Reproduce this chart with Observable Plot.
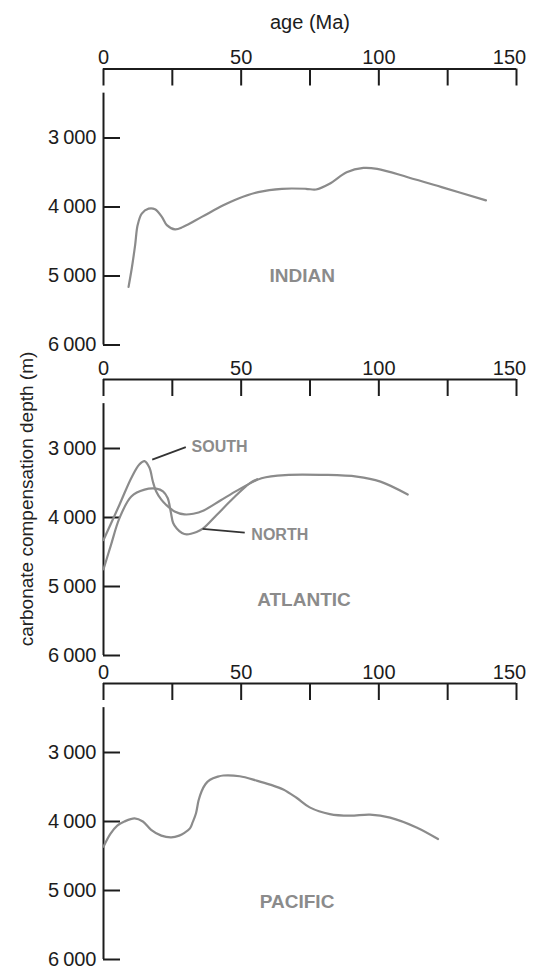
<!DOCTYPE html>
<html><head><meta charset="utf-8">
<script src="https://cdn.jsdelivr.net/npm/d3@7"></script>
<script src="https://cdn.jsdelivr.net/npm/@observablehq/plot@0.6"></script>
<style>
html,body{margin:0;padding:0;background:#fff;overflow:hidden;}
#fig{position:relative;width:533px;height:970px;overflow:hidden;font-family:"Liberation Sans",Arial,sans-serif;}
.panel{position:absolute;left:0;}
#ylab{position:absolute;left:27px;top:499px;transform:translate(-50%,-50%) rotate(-90deg);white-space:nowrap;font-size:19px;color:#222;}
</style></head><body>
<div id="fig"><div id="ylab">carbonate compensation depth (m)</div></div>
<script>
// ---- data ----
const xTicks = [0, 25, 50, 75, 100, 125, 150];
const xTickLabels = [0, 50, 100];
const xEndLabel = [150];
const yTicks = [3000, 4000, 5000, 6000];

const indianAge   = [9.1,10.3,11.5,12.4,13.9,16.4,18.7,21.2,23.0,26.0,29.0,35.7,43.5,48.8,56.2,64.8,73.5,77.2,82.1,88.3,94.4,99.4,110.5,122.8,138.9];
const indianDepth = [5157,4881,4548,4262,4095,4024,4033,4143,4262,4324,4286,4143,3976,3880,3784,3736,3736,3746,3664,3496,3434,3448,3568,3712,3904];

const southAge   = [0,5.8,10.1,13.0,14.9,16.7,17.9,19.1,21.0,22.7,25.8,29.4,32.6,36.4,42.6,48.8,57.4,67.3,79.6,92,100.6,110.5];
const southDepth = [4326,3815,3426,3231,3182,3280,3474,3620,3742,3815,3912,3955,3945,3897,3750,3603,3431,3382,3382,3407,3480,3667];

const northAge   = [0,2.7,5.8,10.1,14.9,19.1,21.6,23.3,24.4,25.3,26.6,28.5,30.2,33.8,36.2,41.1,47.1,53.2,55.8];
const northDepth = [4750,4400,4010,3695,3596,3582,3620,3718,3912,4080,4159,4225,4245,4210,4159,3964,3721,3502,3445];

const pacificAge   = [0,2.5,5,7.6,11.3,14.3,17.3,21.0,24.6,27.5,29.4,31.4,32.4,33.6,34.5,35.6,37,38.7,41.5,43.5,49.5,55.6,60.5,65.3,70.1,74.9,82.2,89.5,96.8,104.1,113.7,121.5];
const pacificDepth = [4365,4180,4060,4000,3955,4000,4120,4205,4230,4205,4165,4100,4010,3880,3700,3565,3460,3395,3350,3333,3344,3407,3465,3536,3656,3795,3893,3916,3900,3943,4086,4254];

const oceanNames = ["INDIAN", "ATLANTIC", "PACIFIC"];
const oceanNameAge = [72.2, 72.8, 70.3];
const oceanNameDepth = [5005, 5200, 5160];

const curveNames = ["SOUTH", "NORTH"];
const curveNameAge = [32.0, 53.7];
const curveNameDepth = [2975, 4255];
const leaderAge1 = [17.7, 36.0];
const leaderDepth1 = [3160, 4165];
const leaderAge2 = [29.9, 51.3];
const leaderDepth2 = [2980, 4220];

const xTitle = "age (Ma)";

// ---- drawing ----
const W = 533, ML = 103, MR = 17, FH = 276;
const FW = W - ML - MR;
const Y0 = 2000, YAXIS_START = 2350;
const ink = "#1c1c1c", gray = "#8b8b8b";
const toRows = (a, b) => a.map((x, i) => ({age: x, depth: b[i]}));
const fmt = d => `${Math.floor(d / 1000)}\u2009${String(d % 1000).padStart(3, "0")}`;

function panel({top, marginTop, series, nameIndex, extra = [], title = false}) {
  const marks = [
    Plot.ruleY([Y0], {stroke: ink, strokeWidth: 2}),
    Plot.tickX(xTicks, {x: d => d, insetBottom: FH - 17, stroke: ink, strokeWidth: 2}),
    Plot.axisX({anchor: "top", ticks: xTickLabels, tickSize: 0, tickPadding: 5, fontSize: 20, label: null, fill: ink}),
    Plot.axisX({anchor: "top", ticks: xEndLabel, tickSize: 0, tickPadding: 5, fontSize: 20, label: null, fill: ink, dx: -7}),
    Plot.ruleX([0], {y1: YAXIS_START, y2: 6000, stroke: ink, strokeWidth: 2}),
    Plot.tickY(yTicks, {y: d => d, insetRight: FW - 17, stroke: ink, strokeWidth: 2}),
    Plot.axisY({anchor: "left", ticks: yTicks, tickSize: 0, tickPadding: 7, tickFormat: fmt, fontSize: 20, label: null, fill: ink}),
    ...series.map(s => Plot.line(s, {x: "age", y: "depth", curve: "catmull-rom", stroke: gray, strokeWidth: 2.2})),
    Plot.text([oceanNames[nameIndex]], {x: oceanNameAge[nameIndex], y: oceanNameDepth[nameIndex], text: d => d,
      fontWeight: "bold", fontSize: 19, fill: gray}),
    ...extra
  ];
  if (title) marks.push(Plot.text([xTitle], {frameAnchor: "top", lineAnchor: "middle", dy: -46, fontSize: 20, fill: ink}));
  const chart = Plot.plot({
    width: W, height: marginTop + FH + 12,
    marginLeft: ML, marginRight: MR, marginTop, marginBottom: 12,
    x: {domain: [0, 150]},
    y: {domain: [Y0, 6000], reverse: true},
    style: {fontFamily: '"Liberation Sans", Arial, sans-serif', fontSize: "20px", background: "transparent", color: ink, overflow: "visible"},
    marks
  });
  chart.classList.add("panel");
  chart.style.top = top + "px";
  document.getElementById("fig").appendChild(chart);
}

const labelRows = curveNames.map((n, i) => ({n, age: curveNameAge[i], depth: curveNameDepth[i],
  a1: leaderAge1[i], d1: leaderDepth1[i], a2: leaderAge2[i], d2: leaderDepth2[i]}));

panel({top: 0, marginTop: 68.5, series: [toRows(indianAge, indianDepth)], nameIndex: 0, title: true});
panel({top: 339.3, marginTop: 40, series: [toRows(southAge, southDepth), toRows(northAge, northDepth)], nameIndex: 1,
  extra: [
    Plot.link(labelRows, {x1: "a1", y1: "d1", x2: "a2", y2: "d2", stroke: "#333", strokeWidth: 1.8}),
    Plot.text(labelRows, {x: "age", y: "depth", text: "n", textAnchor: "start", fontWeight: "bold", fontSize: 16, fill: gray})
  ]});
panel({top: 642.7, marginTop: 40, series: [toRows(pacificAge, pacificDepth)], nameIndex: 2});
</script>
</body></html>
